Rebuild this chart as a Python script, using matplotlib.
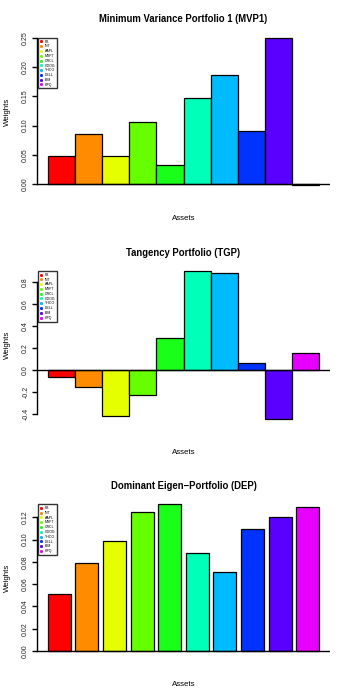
import numpy as np
import matplotlib.pyplot as plt

plt.rcParams['font.family'] = ['Liberation Sans', 'DejaVu Sans']

assets = ['FB', 'INT', 'AAPL', 'MSFT', 'ORCL', 'GOOG', 'YHOO', 'DELL', 'IBM', 'HPQ']
colors = ['#FF0000', '#FF8C00', '#E6FF00', '#66FF00', '#1AFF1A',
          '#00FFB8', '#00BBFF', '#0033FF', '#5A00FF', '#E600FF']

mvp1 = [0.0484, 0.0849, 0.0484, 0.1065, 0.0319, 0.1469, 0.1856, 0.0905, 0.2500, -0.0017]
tgp = [-0.060, -0.151, -0.414, -0.226, 0.293, 0.897, 0.875, 0.063, -0.447, 0.151]
dep = [0.0509, 0.0787, 0.0984, 0.1251, 0.1317, 0.0883, 0.0712, 0.1098, 0.1200, 0.1293]

titles = ['Minimum Variance Portfolio 1 (MVP1)', 'Tangency Portfolio (TGP)',
          'Dominant Eigen\u2212Portfolio (DEP)']
yticks = [np.arange(0, 0.2501, 0.05), np.arange(-0.4, 0.801, 0.2), np.arange(0, 0.1201, 0.02)]
spaces = [0.0, 0.0, 0.2]

fig = plt.figure(figsize=(3.5, 7), dpi=100)
W, H = 350, 700
panels = [(31.9, 190.9), (265.0, 425.3), (498.4, 656.9)]

for i, vals in enumerate([mvp1, tgp, dep]):
    top, bot = panels[i]
    ax = fig.add_axes([37 / W, 1 - bot / H, 293 / W, (bot - top) / H])
    sp = spaces[i]
    x = sp + np.arange(10) * (1 + sp)
    ax.bar(x, vals, width=1, align='edge', color=colors, edgecolor='black', linewidth=0.9)
    # R style axis ranges (4% extension)
    xl, xr = sp, x[-1] + 1
    dx = (xr - xl) * 0.04
    ax.set_xlim(xl - dx, xr + dx)
    lo, hi = min(0, min(vals)), max(0, max(vals))
    dy = (hi - lo) * 0.04
    ax.set_ylim(lo - dy, hi + dy)
    ax.axhline(0, color='black', linewidth=1.0)

    for s in ['top', 'right', 'bottom']:
        ax.spines[s].set_visible(False)
    yt = yticks[i]
    ax.set_yticks(yt)
    ax.set_yticklabels(['%.2f' % v if i != 1 else '%.1f' % v for v in yt])
    ax.spines['left'].set_bounds(yt[0], yt[-1])
    ax.spines['left'].set_linewidth(1.0)
    ax.tick_params(axis='y', labelsize=5.0, length=3.4, width=1.0, pad=2.2,
                   labelrotation=90, labelcolor='#222222')
    for lab in ax.get_yticklabels():
        lab.set_va('center')
    ax.set_xticks([])

    ax.annotate(titles[i], xy=(0.5, 1), xycoords='axes fraction', xytext=(0, 12.5),
                textcoords='offset pixels', ha='center', va='center',
                fontsize=6.85, fontweight='bold')
    ax.annotate('Assets', xy=(0.5, 0), xycoords='axes fraction', xytext=(0, -27.5),
                textcoords='offset pixels', ha='center', va='center', fontsize=5.7)
    ax.annotate('Weights', xy=(0, 0.5), xycoords='axes fraction', xytext=(-29.5, 0),
                textcoords='offset pixels', ha='center', va='center', fontsize=5.7,
                rotation=90)

    handles = [plt.Line2D([], [], marker='s', linestyle='none', color=c, markersize=1.1)
               for c in colors]
    leg = ax.legend(handles, assets, loc='upper left', bbox_to_anchor=(0.002, max(vals)),
                    bbox_transform=ax.get_yaxis_transform(), fontsize=2.5,
                    frameon=True, fancybox=False, borderaxespad=0, borderpad=0.55,
                    handlelength=0.8, handletextpad=0.8, labelspacing=0.22)
    leg.get_frame().set_edgecolor('black')
    leg.get_frame().set_linewidth(1.0)

fig.savefig('out.png', dpi=100)
